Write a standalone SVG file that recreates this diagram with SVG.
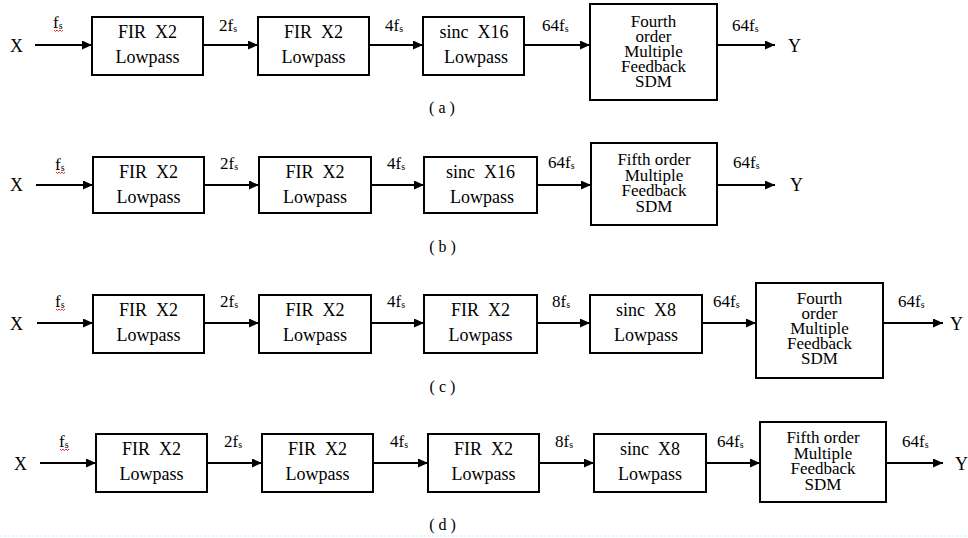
<svg xmlns="http://www.w3.org/2000/svg" width="968" height="538" viewBox="0 0 968 538">
<style>
text{font-family:"Liberation Serif","Times New Roman",serif;fill:#000;white-space:pre}
.bx{fill:#fff;stroke:#000;stroke-width:2}
.t{font-size:18px;text-anchor:middle}
.s{font-size:17px;text-anchor:middle}
.io{font-size:18px}
.lb{font-size:17px}
.sub{font-size:10px}
.cap{font-size:16px;text-anchor:middle}
.cn{stroke:#000;stroke-width:2;fill:none;marker-end:url(#ah)}
.sq{stroke:#e03030;stroke-width:1;fill:none}
</style>
<defs>
<marker id="ah" markerUnits="userSpaceOnUse" markerWidth="11" markerHeight="9" refX="10" refY="4.5" orient="auto">
<path d="M0,0 L10,4.5 L0,9 z" fill="#000"/>
</marker>
</defs>
<rect width="968" height="538" fill="#fff"/>

<!-- Row a -->
<g id="a_X"><text class="io" x="10" y="52">X</text></g>
<g id="a_b1"><rect class="bx" x="92" y="17" width="111" height="58"/><text class="t" x="147.5" y="38">FIR  X2</text><text class="t" x="147.5" y="63">Lowpass</text></g>
<g id="a_b2"><rect class="bx" x="258" y="17" width="111" height="58"/><text class="t" x="313.5" y="38">FIR  X2</text><text class="t" x="313.5" y="63">Lowpass</text></g>
<g id="a_b3"><rect class="bx" x="423" y="17" width="101" height="58"/><text class="t" x="474" y="38">sinc  X16</text><text class="t" x="476" y="63">Lowpass</text></g>
<g id="a_b4"><rect class="bx" x="590" y="4" width="127" height="96"/><text class="s" x="653.5" y="27">Fourth</text><text class="s" x="653.5" y="42">order</text><text class="s" x="653.5" y="57">Multiple</text><text class="s" x="653.5" y="72">Feedback</text><text class="s" x="653.5" y="87">SDM</text></g>
<g id="a_Y"><text class="io" x="788" y="52">Y</text></g>
<g id="a_cap"><text class="cap" x="442" y="113">( a )</text></g>

<!-- Row b -->
<g id="b_X"><text class="io" x="10" y="191">X</text></g>
<g id="b_b1"><rect class="bx" x="93" y="157" width="111" height="56"/><text class="t" x="148.5" y="178">FIR  X2</text><text class="t" x="148.5" y="203">Lowpass</text></g>
<g id="b_b2"><rect class="bx" x="259" y="157" width="112" height="56"/><text class="t" x="315" y="178">FIR  X2</text><text class="t" x="315" y="203">Lowpass</text></g>
<g id="b_b3"><rect class="bx" x="424" y="157" width="113" height="56"/><text class="t" x="480.5" y="178">sinc  X16</text><text class="t" x="482" y="203">Lowpass</text></g>
<g id="b_b4"><rect class="bx" x="591" y="143" width="126" height="82"/><text class="s" x="654" y="165">Fifth order</text><text class="s" x="654" y="180.5">Multiple</text><text class="s" x="654" y="196">Feedback</text><text class="s" x="654" y="211.5">SDM</text></g>
<g id="b_Y"><text class="io" x="790" y="191">Y</text></g>
<g id="b_cap"><text class="cap" x="442.5" y="252">( b )</text></g>

<!-- Row c -->
<g id="c_X"><text class="io" x="10" y="330">X</text></g>
<g id="c_b1"><rect class="bx" x="93" y="295" width="111" height="58"/><text class="t" x="148.5" y="316">FIR  X2</text><text class="t" x="148.5" y="341">Lowpass</text></g>
<g id="c_b2"><rect class="bx" x="259" y="295" width="112" height="58"/><text class="t" x="315" y="316">FIR  X2</text><text class="t" x="315" y="341">Lowpass</text></g>
<g id="c_b3"><rect class="bx" x="424" y="295" width="113" height="58"/><text class="t" x="480.5" y="316">FIR  X2</text><text class="t" x="480.5" y="341">Lowpass</text></g>
<g id="c_b4"><rect class="bx" x="590" y="295" width="112" height="58"/><text class="t" x="646" y="316">sinc  X8</text><text class="t" x="646" y="341">Lowpass</text></g>
<g id="c_b5"><rect class="bx" x="756" y="283" width="127" height="95"/><text class="s" x="819.5" y="304">Fourth</text><text class="s" x="819.5" y="319">order</text><text class="s" x="819.5" y="334">Multiple</text><text class="s" x="819.5" y="349">Feedback</text><text class="s" x="819.5" y="364">SDM</text></g>
<g id="c_Y"><text class="io" x="950" y="330">Y</text></g>
<g id="c_cap"><text class="cap" x="442.5" y="392">( c )</text></g>

<!-- Row d -->
<g id="d_X"><text class="io" x="14" y="470">X</text></g>
<g id="d_b1"><rect class="bx" x="96" y="434" width="111" height="58"/><text class="t" x="151.5" y="455">FIR  X2</text><text class="t" x="151.5" y="480">Lowpass</text></g>
<g id="d_b2"><rect class="bx" x="262" y="434" width="111" height="58"/><text class="t" x="317.5" y="455">FIR  X2</text><text class="t" x="317.5" y="480">Lowpass</text></g>
<g id="d_b3"><rect class="bx" x="428" y="434" width="111" height="58"/><text class="t" x="483.5" y="455">FIR  X2</text><text class="t" x="483.5" y="480">Lowpass</text></g>
<g id="d_b4"><rect class="bx" x="594" y="434" width="112" height="58"/><text class="t" x="650" y="455">sinc  X8</text><text class="t" x="650" y="480">Lowpass</text></g>
<g id="d_b5"><rect class="bx" x="760" y="422" width="126" height="80"/><text class="s" x="823" y="443">Fifth order</text><text class="s" x="823" y="458.5">Multiple</text><text class="s" x="823" y="474">Feedback</text><text class="s" x="823" y="489.5">SDM</text></g>
<g id="d_Y"><text class="io" x="955" y="470">Y</text></g>
<g id="d_cap"><text class="cap" x="442.5" y="530">( d )</text></g>

<g id="connectors">
<path class="cn" d="M35,45 H92"/>
<path class="cn" d="M203,45 H258"/>
<path class="cn" d="M369,45 H423"/>
<path class="cn" d="M524,45 H590"/>
<path class="cn" d="M717,45 H775"/>

<path class="cn" d="M36,185 H93"/>
<path class="cn" d="M204,185 H259"/>
<path class="cn" d="M371,185 H424"/>
<path class="cn" d="M537,185 H591"/>
<path class="cn" d="M717,185 H775"/>

<path class="cn" d="M37,323 H93"/>
<path class="cn" d="M204,323 H259"/>
<path class="cn" d="M371,323 H424"/>
<path class="cn" d="M537,323 H590"/>
<path class="cn" d="M702,323 H756"/>
<path class="cn" d="M883,323 H943"/>

<path class="cn" d="M40,463 H96"/>
<path class="cn" d="M207,463 H262"/>
<path class="cn" d="M373,463 H428"/>
<path class="cn" d="M539,463 H594"/>
<path class="cn" d="M706,463 H760"/>
<path class="cn" d="M886,463 H943"/>

<g id="labels">
<text class="lb" x="53" y="28">f<tspan class="sub" dy="1">s</tspan></text>
<text class="lb" x="219" y="31">2f<tspan class="sub" dy="1">s</tspan></text>
<text class="lb" x="385" y="31">4f<tspan class="sub" dy="1">s</tspan></text>
<text class="lb" x="542" y="31">64f<tspan class="sub" dy="1">s</tspan></text>
<text class="lb" x="732" y="31">64f<tspan class="sub" dy="1">s</tspan></text>

<text class="lb" x="55" y="170">f<tspan class="sub" dy="1">s</tspan></text>
<text class="lb" x="220" y="169">2f<tspan class="sub" dy="1">s</tspan></text>
<text class="lb" x="387" y="169">4f<tspan class="sub" dy="1">s</tspan></text>
<text class="lb" x="548" y="168">64f<tspan class="sub" dy="1">s</tspan></text>
<text class="lb" x="733" y="168">64f<tspan class="sub" dy="1">s</tspan></text>

<text class="lb" x="55" y="307">f<tspan class="sub" dy="1">s</tspan></text>
<text class="lb" x="220" y="307">2f<tspan class="sub" dy="1">s</tspan></text>
<text class="lb" x="387" y="307">4f<tspan class="sub" dy="1">s</tspan></text>
<text class="lb" x="552" y="307">8f<tspan class="sub" dy="1">s</tspan></text>
<text class="lb" x="713" y="307">64f<tspan class="sub" dy="1">s</tspan></text>
<text class="lb" x="898" y="307">64f<tspan class="sub" dy="1">s</tspan></text>

<text class="lb" x="59" y="447">f<tspan class="sub" dy="1">s</tspan></text>
<text class="lb" x="224" y="447">2f<tspan class="sub" dy="1">s</tspan></text>
<text class="lb" x="390" y="447">4f<tspan class="sub" dy="1">s</tspan></text>
<text class="lb" x="555" y="447">8f<tspan class="sub" dy="1">s</tspan></text>
<text class="lb" x="717" y="447">64f<tspan class="sub" dy="1">s</tspan></text>
<text class="lb" x="902" y="447">64f<tspan class="sub" dy="1">s</tspan></text>

<path class="sq" d="M54,30 l1.5,1.5 l1.5,-1.5 l1.5,1.5 l1.5,-1.5 l1.5,1.5 l1.5,-1.5"/>
<path class="sq" d="M56,172 l1.5,1.5 l1.5,-1.5 l1.5,1.5 l1.5,-1.5 l1.5,1.5 l1.5,-1.5"/>
<path class="sq" d="M56,309 l1.5,1.5 l1.5,-1.5 l1.5,1.5 l1.5,-1.5 l1.5,1.5 l1.5,-1.5"/>
<path class="sq" d="M60,449 l1.5,1.5 l1.5,-1.5 l1.5,1.5 l1.5,-1.5 l1.5,1.5 l1.5,-1.5"/>
</g>
</g>
<line x1="0" y1="536" x2="968" y2="536" stroke="#b8eef6" stroke-width="1.5" stroke-dasharray="2 2" opacity="0.6"/>
</svg>
